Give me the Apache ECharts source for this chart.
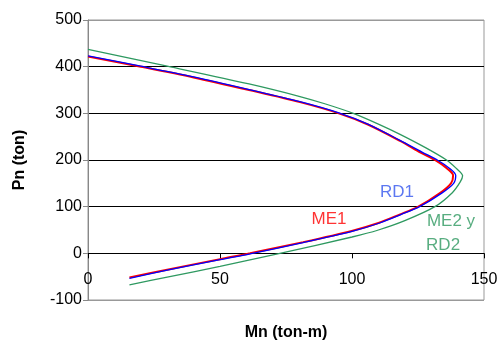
<!DOCTYPE html>
<html><head><meta charset="utf-8">
<script src="https://cdn.jsdelivr.net/npm/echarts@6/dist/echarts.min.js"></script>
<style>html,body{margin:0;padding:0;background:#fff}#c{width:499px;height:341px}</style>
</head><body><div id="c"></div>
<script>
// Mn (ton-m), Pn (ton)
const me1 = [[0,422],[20,400],[40,377],[61,350],[80.3,324],[95,300],[106,276],[118.2,241],[126,216],[132,198],[136,182],[138.3,167],[137.5,150],[133.3,129],[125.1,100],[118,83],[110,65],[99.9,48],[81.5,24],[61.4,0],[50,-12.5],[30,-35],[15.7,-52]];
const rd1 = [[0,423],[20,401],[40,378],[61,351],[80.3,325],[95,301],[106,277],[118.2,242],[126.5,217],[132.6,199],[137,182],[139.3,167],[138.5,150],[134,129],[125.6,100],[118.5,83],[110.5,65],[100,47],[81.5,23],[61.4,-1],[50,-13.5],[30,-36],[15.7,-53.5]];
const rd2 = [[0,437],[30,401],[61,363],[80.3,336],[90,320],[100.5,300],[110,277],[118.2,255],[128,226],[135.8,200],[139.5,182],[141.9,166],[141,153],[138,130],[131.4,100],[120,70],[110,50],[100,35],[72.7,0],[50,-28],[30,-51],[15.7,-67.5]];
const xTicks = [0,50,100,150];
const yTicks = [-100,0,100,200,300,400,500];
const notes = [
  {name:'RD1', value:[117,130], color:'#3355ee'},
  {name:'ME1', value:[91.3,72], color:'#ff0000'},
  {name:'ME2 y', value:[137.5,68], color:'#2e9960'},
  {name:'RD2', value:[134.5,18], color:'#2e9960'}
];
const font = '"Liberation Sans", Arial, sans-serif';
const chart = echarts.init(document.getElementById('c'), null, {renderer:'canvas'});
const yMin = yTicks[0], yMax = yTicks[yTicks.length-1];
const gridTop = 20, gridBottom = 41, H = 341;
const plotH = H - gridTop - gridBottom;
const zeroOffset = -plotH * (0 - yMin) / (yMax - yMin);
chart.setOption({
  animation:false,
  backgroundColor:'#fff',
  grid:{left:88,right:15,top:gridTop,bottom:gridBottom,outerBoundsMode:'none',containLabel:false,show:true,borderColor:'#999',borderWidth:1,backgroundColor:'transparent'},
  xAxis:[
   {type:'value',min:xTicks[0],max:xTicks[xTicks.length-1],interval:50,position:'bottom',
    axisLine:{show:false,onZero:false},
    axisTick:{show:false},
    axisLabel:{show:true,inside:true,margin:12,color:'#000',fontSize:16,fontFamily:font},
    splitLine:{show:false},
    name:'Mn (ton-m)',nameLocation:'middle',nameGap:25,
    nameTextStyle:{fontWeight:'bold',fontSize:16,fontFamily:font,color:'#000'}},
   {type:'value',min:xTicks[0],max:xTicks[xTicks.length-1],interval:50,position:'bottom',offset:zeroOffset,
    axisLine:{show:true,onZero:false,lineStyle:{color:'#000',width:1}},
    axisTick:{show:true,inside:false,length:5,lineStyle:{color:'#000'}},
    axisLabel:{show:false},splitLine:{show:false}}
  ],
  yAxis:{type:'value',min:yMin,max:yMax,interval:100,
    axisLine:{show:true,onZero:false,lineStyle:{color:'#888',width:1}},
    axisTick:{show:true,length:5,lineStyle:{color:'#888'}},
    axisLabel:{margin:6,color:'#000',fontSize:16,fontFamily:font},
    splitLine:{show:true,lineStyle:{color:['#999','#000','#000','#000','#000','#000','#999'],width:1}},
    name:'Pn (ton)',nameLocation:'middle',nameGap:60,nameRotate:90,
    nameTextStyle:{fontWeight:'bold',fontSize:16,fontFamily:font,color:'#000'}},
  series:[
    {name:'RD2',type:'line',data:rd2,smooth:0.3,showSymbol:false,lineStyle:{color:'#2e9960',width:1.3},z:2},
    {name:'ME1',type:'line',data:me1,smooth:0.3,showSymbol:false,lineStyle:{color:'#ff0000',width:2},z:3},
    {name:'RD1',type:'line',data:rd1,smooth:0.3,showSymbol:false,lineStyle:{color:'#0000ff',width:1.3},z:4},
    {type:'scatter',symbolSize:0,z:5,silent:true,
      data:notes.map(n=>({value:n.value,name:n.name,label:{show:true,position:'inside',formatter:n.name,color:n.color,fontSize:17,fontFamily:font}}))}
  ]
});
</script></body></html>
